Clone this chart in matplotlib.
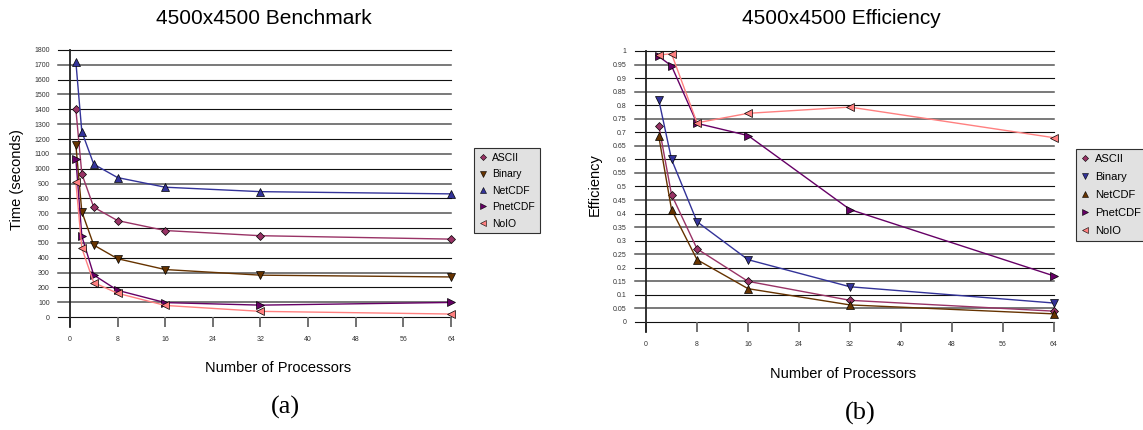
import matplotlib
matplotlib.use("Agg")
import matplotlib.pyplot as plt
from matplotlib.lines import Line2D

# ---------------- data ----------------
series = ["ASCII", "Binary", "NetCDF", "PnetCDF", "NoIO"]

procs_time = [1, 2, 4, 8, 16, 32, 64]
time_ascii = [1400, 965, 740, 650, 583, 548, 525]
time_binary = [1160, 710, 485, 393, 320, 282, 270]
time_netcdf = [1720, 1250, 1030, 940, 875, 845, 830]
time_pnetcdf = [1065, 545, 283, 180, 97, 80, 98]
time_noio = [910, 465, 232, 160, 78, 38, 20]

procs_eff = [2, 4, 8, 16, 32, 64]
eff_ascii = [0.725, 0.47, 0.27, 0.15, 0.08, 0.04]
eff_binary = [0.82, 0.60, 0.37, 0.23, 0.13, 0.07]
eff_netcdf = [0.685, 0.415, 0.23, 0.123, 0.063, 0.03]
eff_pnetcdf = [0.98, 0.945, 0.733, 0.688, 0.415, 0.17]
eff_noio = [0.985, 0.99, 0.735, 0.77, 0.793, 0.68]

x_ticks = [0, 8, 16, 24, 32, 40, 48, 56, 64]
time_ticks = list(range(0, 1801, 100))
eff_ticks = [i * 0.05 for i in range(21)]
eff_labels = ["0", "0.05", "0.1", "0.15", "0.2", "0.25", "0.3", "0.35", "0.4", "0.45",
              "0.5", "0.55", "0.6", "0.65", "0.7", "0.75", "0.8", "0.85", "0.9", "0.95", "1"]

# ---------------- style ----------------
plt.rcParams['font.family'] = ['Liberation Sans', 'DejaVu Sans']
W, H = 1143, 430
fig = plt.figure(figsize=(W / 100, H / 100), dpi=100)

C_ASCII = "#993366"
C_BROWN = "#663300"
C_NAVY = "#333399"
C_PNET = "#660066"
C_NOIO = "#FF8080"
markers = {"ASCII": "D", "Binary": "v", "NetCDF": "^", "PnetCDF": ">", "NoIO": "<"}
msize = {"ASCII": 3.6, "Binary": 5.5, "NetCDF": 5.5, "PnetCDF": 5.5, "NoIO": 5.5}


def px_axes(l, r, t, b):
    return fig.add_axes([l / W, 1 - b / H, (r - l) / W, (b - t) / H])


def setup(ax, xmin, yticks, ylabels, ymax):
    ax.set_xlim(xmin, 64)
    ax.set_ylim(0, ymax)
    for s in ax.spines.values():
        s.set_visible(False)
    ax.set_yticks(yticks)
    ax.set_yticklabels(ylabels)
    ax.tick_params(axis='y', length=0, pad=6, labelsize=5, labelcolor="#333333")
    ax.set_xticks(x_ticks)
    ax.set_xticklabels([str(v) for v in x_ticks])
    ax.tick_params(axis='x', length=7.5, width=1.3, color="#666666", pad=6,
                   labelsize=5, labelcolor="#333333")
    for i, v in enumerate(yticks):
        col = "#111111" if i % 2 == 0 else "#555555"
        lw = 0.8 if i % 2 == 0 else 1.1
        ax.axhline(v, color=col, linewidth=lw, clip_on=False, zorder=1)
    ax.plot([0, 0], [-0.037 * ymax, ymax], color="#222222", lw=1.3, clip_on=False, zorder=2)


def draw(ax, x, ys, colors):
    for name, y in zip(series, ys):
        ax.plot(x, y, color=colors[name], lw=1.0, marker=markers[name],
                markersize=msize[name], markerfacecolor=colors[name],
                markeredgecolor="black", markeredgewidth=0.5, clip_on=False, zorder=3)


def legend(colors, bbox, fs, spacing):
    handles = [Line2D([], [], linestyle="none", marker=markers[n], markersize=msize[n] - 0.5,
                      markerfacecolor=colors[n], markeredgecolor="black",
                      markeredgewidth=0.4) for n in series]
    lg = fig.legend(handles, series, loc="upper left", bbox_to_anchor=bbox,
                    bbox_transform=fig.transFigure, fontsize=fs, frameon=True,
                    fancybox=False, handlelength=0.8, handletextpad=0.5,
                    labelspacing=spacing, borderpad=0.45, borderaxespad=0)
    lg.get_frame().set_facecolor("#DADADA")
    lg.get_frame().set_edgecolor("black")
    lg.get_frame().set_linewidth(0.8)


# ---------- (a) ----------
colors_a = {"ASCII": C_ASCII, "Binary": C_BROWN, "NetCDF": C_NAVY, "PnetCDF": C_PNET, "NoIO": C_NOIO}
ax1 = px_axes(58, 451, 50, 317)
setup(ax1, -2.0, time_ticks, [str(v) for v in time_ticks], 1800)
draw(ax1, procs_time, [time_ascii, time_binary, time_netcdf, time_pnetcdf, time_noio], colors_a)
legend(colors_a, (474 / W, 1 - 148 / H), 7.5, 0.62)

fig.text(264 / W, 1 - 18 / H, "4500x4500 Benchmark", ha="center", va="center", fontsize=15)
fig.text(17 / W, 1 - 180 / H, "Time (seconds)", ha="center", va="center", rotation=90, fontsize=10.5)
fig.text(278 / W, 1 - 368 / H, "Number of Processors", ha="center", va="center", fontsize=10.5)
fig.text(285 / W, 1 - 407 / H, "(a)", ha="center", va="center", fontsize=19,
         family=["Liberation Serif", "DejaVu Serif"])

# ---------- (b) ----------
colors_b = {"ASCII": C_ASCII, "Binary": C_NAVY, "NetCDF": C_BROWN, "PnetCDF": C_PNET, "NoIO": C_NOIO}
ax2 = px_axes(635, 1054, 51, 322)
setup(ax2, -1.73, eff_ticks, eff_labels, 1.0)
draw(ax2, procs_eff, [eff_ascii, eff_binary, eff_netcdf, eff_pnetcdf, eff_noio], colors_b)
legend(colors_b, (1076 / W, 1 - 149 / H), 8, 0.72)

fig.text(841 / W, 1 - 18 / H, "4500x4500 Efficiency", ha="center", va="center", fontsize=15)
fig.text(595 / W, 1 - 185 / H, "Efficiency", ha="center", va="center", rotation=90, fontsize=10.5)
fig.text(843 / W, 1 - 374 / H, "Number of Processors", ha="center", va="center", fontsize=10.5)
fig.text(860 / W, 1 - 413 / H, "(b)", ha="center", va="center", fontsize=19,
         family=["Liberation Serif", "DejaVu Serif"])

fig.savefig("out.png", dpi=100)
